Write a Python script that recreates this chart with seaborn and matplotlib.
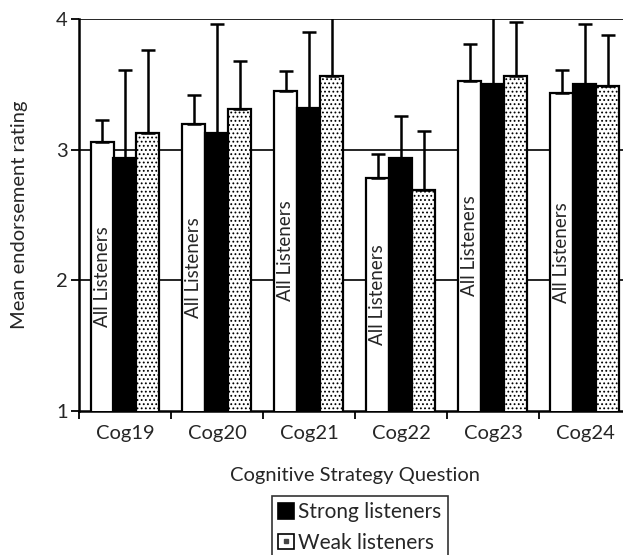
import matplotlib
matplotlib.use("Agg")
import matplotlib.pyplot as plt
import seaborn as sns
import pandas as pd
import numpy as np
from matplotlib.patches import Patch
from matplotlib.lines import Line2D
from matplotlib.legend_handler import HandlerTuple

categories = ["Cog19", "Cog20", "Cog21", "Cog22", "Cog23", "Cog24"]
groups = ["All Listeners", "Strong listeners", "Weak listeners"]
all_mean = [3.06, 3.20, 3.45, 2.78, 3.525, 3.43]
all_upper = [3.23, 3.42, 3.60, 2.97, 3.81, 3.61]
strong_mean = [2.94, 3.13, 3.32, 2.94, 3.50, 3.50]
strong_upper = [3.61, 3.96, 3.90, 3.26, 4.10, 3.96]
weak_mean = [3.125, 3.31, 3.56, 2.69, 3.56, 3.49]
weak_upper = [3.76, 3.68, 4.10, 3.14, 3.98, 3.88]

means = [all_mean, strong_mean, weak_mean]
uppers = [all_upper, strong_upper, weak_upper]

df = pd.DataFrame({
    "cat": categories * 3,
    "grp": [g for g in groups for _ in categories],
    "val": all_mean + strong_mean + weak_mean,
})

sns.set_style("white")
plt.rcParams["font.family"] = ["Lato", "DejaVu Sans"]
plt.rcParams["hatch.linewidth"] = 0.8
plt.rcParams["hatch.color"] = "#444444"

fig = plt.figure(figsize=(6.23, 5.55), dpi=100)
ax = fig.add_axes([79 / 623, 144 / 555, 552 / 623, 392 / 555])

sns.barplot(data=df, x="cat", y="val", hue="grp", order=categories,
            hue_order=groups, palette=["white", "black", "white"],
            width=0.75, gap=0, errorbar=None, legend=False, ax=ax,
            edgecolor="black", linewidth=1.6, zorder=3)

bar_containers = list(ax.containers)
for gi, cont in enumerate(bar_containers):
    xs = [p.get_x() + p.get_width() / 2 for p in cont.patches]
    if gi == 2:
        for p in cont.patches:
            p.set_hatch("....")
            p.set_edgecolor("black")
    m = np.array(means[gi])
    u = np.array(uppers[gi])
    ax.errorbar(xs, m, yerr=[np.zeros_like(m), u - m], fmt="none",
                ecolor="black", elinewidth=1.8, capsize=5, capthick=1.8,
                zorder=4)
    if gi == 0:
        for x, v in zip(xs, m):
            ax.text(x, (1 + v) / 2, "All Listeners", rotation=90,
                    ha="center", va="center", fontsize=13.5, zorder=5)

ax.set_ylim(1, 4)
ax.set_xlim(-0.5, 5.5)
ax.set_yticks([1, 2, 3, 4])
ax.set_yticklabels(["1", "2", "3", "4"], fontsize=14.5)
ax.set_xticks(range(len(categories)))
ax.set_xticklabels(categories, fontsize=14.5)
ax.set_xticks(np.arange(-0.5, 6.0, 1.0), minor=True)
ax.tick_params(axis="x", which="major", length=0, pad=10)
ax.tick_params(axis="x", which="minor", length=6, width=1.3, color="black",
               direction="out", bottom=True)
ax.tick_params(axis="y", length=6, width=1.3, color="black", direction="out",
               left=True, pad=2)
for y in [2, 3, 4]:
    ax.axhline(y, color="black", linewidth=1.2, zorder=1)
for s in ["top", "right"]:
    ax.spines[s].set_visible(False)
for s in ["left", "bottom"]:
    ax.spines[s].set_color("black")
    ax.spines[s].set_linewidth(1.8)
ax.set_xlabel("Cognitive Strategy Question", fontsize=14.5, labelpad=18)
ax.set_ylabel("Mean endorsement rating", fontsize=14.5, labelpad=20)

handles = [Patch(facecolor="black", edgecolor="black", linewidth=1.2),
           (Patch(facecolor="white", edgecolor="black", linewidth=1.2),
            Line2D([], [], marker="s", markersize=2.5, color="#444444",
                   linestyle="none"))]
leg = fig.legend(handles, ["Strong listeners", "Weak listeners"],
                 loc="upper left", bbox_to_anchor=(272 / 623, 59 / 555),
                 frameon=True, fancybox=False, edgecolor="black",
                 fontsize=15, handlelength=0.75, handleheight=0.75,
                 handletextpad=0.2, borderpad=0.3, borderaxespad=0,
                 labelspacing=0.5,
                 handler_map={tuple: HandlerTuple(ndivide=1, pad=0)})
leg.get_frame().set_linewidth(1.2)

fig.savefig("out.png", dpi=100)
